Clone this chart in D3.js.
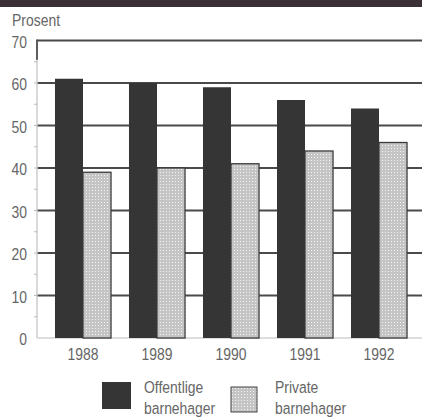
<!DOCTYPE html>
<html><head><meta charset="utf-8">
<script src="https://cdn.jsdelivr.net/npm/d3@7"></script>
<style>body{margin:0;background:#fff;}svg{display:block;}</style>
</head><body>
<script>
const years = ["1988","1989","1990","1991","1992"];
const offentlige = [61, 60, 59, 56, 54];
const privat = [39, 40, 41, 44, 46];
const yTicks = [0,10,20,30,40,50,60,70];
const seriesNames = ["Offentlige barnehager","Private barnehager"];

const W = 422, H = 418;
const svg = d3.select("body").append("svg").attr("width", W).attr("height", H);
const defs = svg.append("defs");
const pat = defs.append("pattern").attr("id","dots").attr("patternUnits","userSpaceOnUse")
  .attr("width",3).attr("height",3);
pat.append("rect").attr("width",3).attr("height",3).attr("fill","#c4c4c4");
pat.append("rect").attr("x",1).attr("y",1).attr("width",1).attr("height",1).attr("fill","#f4f4f4");

// top dark strip
svg.append("rect").attr("x",0).attr("y",0).attr("width",W).attr("height",7).attr("fill","#3b3035");

const x0 = 37, yBase = 338;
const y = d3.scaleLinear().domain([0,70]).range([yBase, 40.5]);
const x = d3.scaleBand().domain(years).range([x0, 425]).paddingInner(0.243).paddingOuter(0.243);
const xs = d3.scaleBand().domain(["o","p"]).range([0, x.bandwidth()]);

const font = "'Liberation Sans', Arial, sans-serif";
const fs = 17, sx = 0.82;
const txtColor = "#666";

// gridlines
const g = svg.append("g");
g.selectAll("line.grid").data(yTicks.filter(d=>d>0)).join("line")
  .attr("x1", x0).attr("x2", W).attr("y1", d=>y(d)).attr("y2", d=>y(d))
  .attr("stroke","#4a4a4a").attr("stroke-width", d=> d===70 ? 2 : 1.8);
g.append("line").attr("x1",x0).attr("x2",W).attr("y1",yBase).attr("y2",yBase)
  .attr("stroke","#bbb").attr("stroke-width",1);
g.append("line").attr("x1",x0).attr("x2",x0).attr("y1",y(70)-1).attr("y2",yBase)
  .attr("stroke","#ccc").attr("stroke-width",1.5);
g.append("line").attr("x1",x0).attr("x2",x0).attr("y1",y(70)-1).attr("y2",y(65)-2)
  .attr("stroke","#333").attr("stroke-width",1.5);
g.selectAll("line.minor").data(d3.range(5,70,5)).join("line")
  .attr("x1", x0-3).attr("x2", x0).attr("y1", d=>y(d)).attr("y2", d=>y(d))
  .attr("stroke","#bbb").attr("stroke-width",1);

// bars
const grp = svg.append("g").selectAll("g").data(years).join("g")
  .attr("transform", d=>`translate(${x(d)},0)`);
grp.append("rect")
  .attr("x", xs("o")).attr("width", xs.bandwidth())
  .attr("y", (d,i)=>y(offentlige[i])).attr("height", (d,i)=>yBase - y(offentlige[i]))
  .attr("fill","#353535");
grp.append("rect")
  .attr("x", xs("p")).attr("width", xs.bandwidth())
  .attr("y", (d,i)=>y(privat[i])).attr("height", (d,i)=>yBase - y(privat[i]))
  .attr("fill","url(#dots)").attr("stroke","#3a3a3a").attr("stroke-width",1.3);

// text helper: position with transform so glyphs can be horizontally condensed
function txt(sel, fx, fy){
  return sel.attr("transform", (d,i)=>`translate(${fx(d,i)},${fy(d,i)}) scale(${sx},1)`)
    .attr("font-family", font).attr("font-size", fs).attr("fill", txtColor);
}

txt(svg.append("g").selectAll("text").data(yTicks).join("text")
  .attr("dy","0.36em").attr("text-anchor","end").text(d=>d), d=>27, d=>y(d)+1);
txt(svg.append("g").selectAll("text").data(years).join("text")
  .attr("text-anchor","middle").text(d=>d), d=>x(d)+x.bandwidth()/2, d=>360);
txt(svg.append("g").selectAll("text").data(["Prosent"]).join("text").text(d=>d), d=>12, d=>26);

// legend
const leg = [
  {name: seriesNames[0], x: 102, y: 382, w: 29, h: 27, tx: 144, fill: "#353535", stroke: "none"},
  {name: seriesNames[1], x: 231, y: 387, w: 26, h: 25, tx: 275, fill: "url(#dots)", stroke: "#444"}
];
const lg = svg.append("g").selectAll("g").data(leg).join("g");
lg.append("rect").attr("x", d=>d.x).attr("y", d=>d.y)
  .attr("width", d=>d.w).attr("height", d=>d.h)
  .attr("fill", d=>d.fill).attr("stroke", d=>d.stroke);
txt(lg.append("text").text(d=>d.name.split(" ")[0]), d=>d.tx, d=>393);
txt(lg.append("text").text(d=>d.name.split(" ")[1]), d=>d.tx, d=>414);
</script>
</body></html>
